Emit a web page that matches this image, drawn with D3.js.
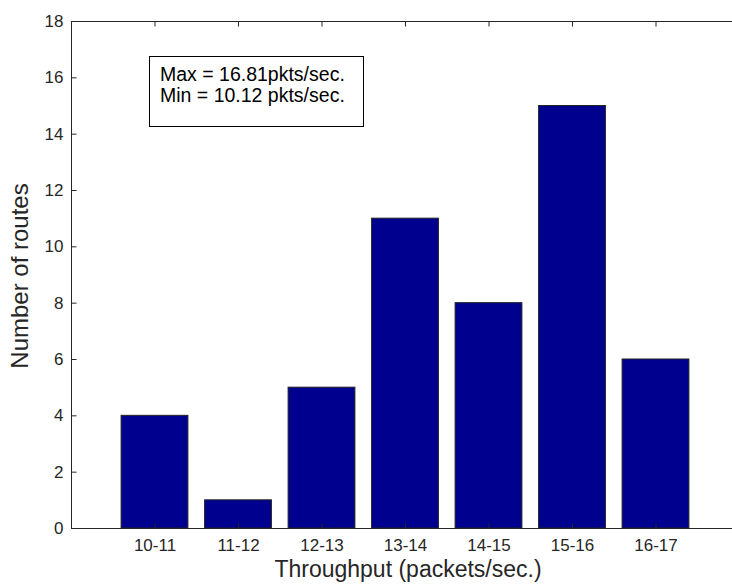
<!DOCTYPE html>
<html>
<head>
<meta charset="utf-8">
<script src="https://cdn.jsdelivr.net/npm/d3@7"></script>
<style>
  html, body { margin: 0; padding: 0; background: #fff; }
  svg text { font-family: "Liberation Sans", Arial, sans-serif; fill: #262626; }
</style>
</head>
<body>
<svg id="chart" width="732" height="586"></svg>
<script>
// Histogram of route throughput
const categories = ["10-11", "11-12", "12-13", "13-14", "14-15", "15-16", "16-17"];
const counts = [4, 1, 5, 11, 8, 15, 6];
const yTicks = [0, 2, 4, 6, 8, 10, 12, 14, 16, 18];
const noteLines = ["Max = 16.81pkts/sec.", "Min = 10.12 pkts/sec."];
const xLabel = "Throughput (packets/sec.)";
const yLabel = "Number of routes";

const svg = d3.select("#chart");
const plot = { left: 71, right: 739, top: 21, bottom: 528 };

// numeric x positions 1..7, axis runs 0..8
const x = d3.scaleLinear().domain([0, categories.length + 1]).range([plot.left, plot.right]);
const y = d3.scaleLinear().domain([0, 18]).range([plot.bottom, plot.top]);
const barWidth = (x(1) - x(0)) * 0.8;

// bars
svg.append("g").selectAll("rect")
  .data(counts)
  .join("rect")
  .attr("x", (d, i) => x(i + 1) - barWidth / 2)
  .attr("y", d => y(d))
  .attr("width", barWidth)
  .attr("height", d => y(0) - y(d))
  .attr("fill", "#00008f")
  .attr("stroke", "#222")
  .attr("stroke-width", 1);

// axes box
const tickLen = 5;
const axisColor = "#262626";
const frame = svg.append("g").attr("fill", "none").attr("stroke", axisColor).attr("stroke-width", 1);
frame.append("rect")
  .attr("x", plot.left + 0.5).attr("y", plot.top + 0.5)
  .attr("width", plot.right - plot.left).attr("height", plot.bottom - plot.top);

// left axis labels + inward ticks, mirrored on the right
const yAxisLeft = d3.axisLeft(y).tickValues(yTicks).tickSizeInner(-tickLen).tickSizeOuter(0).tickPadding(8);
const gy = svg.append("g").attr("transform", `translate(${plot.left + 0.5},0)`).call(yAxisLeft);
gy.select(".domain").remove();
gy.selectAll("line").attr("stroke", axisColor);
gy.selectAll("text").attr("font-size", 17).style("fill", axisColor);

const yAxisRight = d3.axisRight(y).tickValues(yTicks).tickSizeInner(-tickLen).tickSizeOuter(0).tickFormat("");
const gyr = svg.append("g").attr("transform", `translate(${plot.right + 0.5},0)`).call(yAxisRight);
gyr.select(".domain").remove();
gyr.selectAll("line").attr("stroke", axisColor);

// bottom category labels with inward ticks, mirrored on top
const xTickVals = categories.map((c, i) => i + 1);
const xAxisBottom = d3.axisBottom(x).tickValues(xTickVals).tickFormat((d, i) => categories[i])
  .tickSizeInner(-tickLen).tickSizeOuter(0).tickPadding(10);
const gx = svg.append("g").attr("transform", `translate(0,${plot.bottom + 0.5})`).call(xAxisBottom);
gx.select(".domain").remove();
gx.selectAll("line").attr("stroke", axisColor);
gx.selectAll("text").attr("font-size", 17).style("fill", axisColor);

const xAxisTop = d3.axisTop(x).tickValues(xTickVals).tickFormat("").tickSizeInner(-tickLen).tickSizeOuter(0);
const gxt = svg.append("g").attr("transform", `translate(0,${plot.top + 0.5})`).call(xAxisTop);
gxt.select(".domain").remove();
gxt.selectAll("line").attr("stroke", axisColor);

// axis titles
svg.append("text")
  .attr("x", 408).attr("y", 577)
  .attr("text-anchor", "middle").attr("font-size", 23)
  .text(xLabel);
svg.append("text")
  .attr("transform", `translate(28,276) rotate(-90)`)
  .attr("text-anchor", "middle").attr("font-size", 24)
  .text(yLabel);

// annotation box
const note = svg.append("g");
note.append("rect")
  .attr("x", 149.5).attr("y", 56.5).attr("width", 214).attr("height", 70)
  .attr("fill", "#fff").attr("stroke", "#000").attr("stroke-width", 1);
note.selectAll("text.note")
  .data(noteLines)
  .join("text")
  .attr("class", "note")
  .attr("x", 160).attr("y", (d, i) => 81 + i * 21)
  .attr("font-size", 19.5)
  .style("fill", "#000")
  .text(d => d);
</script>
</body>
</html>
